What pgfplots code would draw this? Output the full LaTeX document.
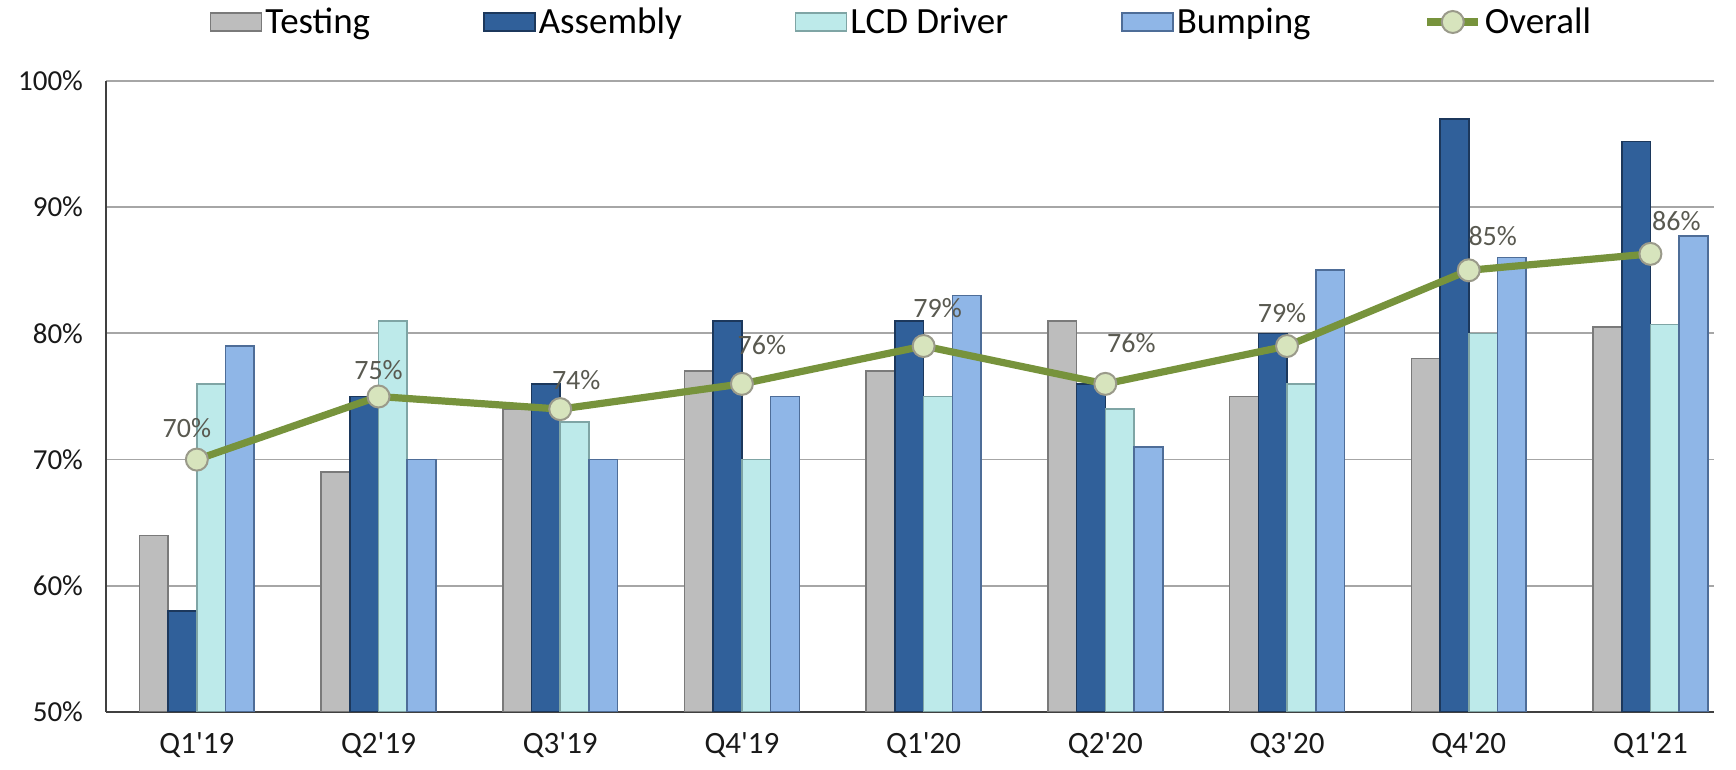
\documentclass[border=0pt]{standalone}
\usepackage{pgfplots}
\pgfplotsset{compat=1.18}
\usepackage{pgfplotstable}
\usepackage{fontspec}
\setmainfont{Carlito}
\definecolor{tfill}{HTML}{BDBDBD}
\definecolor{tedge}{HTML}{7A7A7A}
\definecolor{afill}{HTML}{30609A}
\definecolor{aedge}{HTML}{1C385C}
\definecolor{lfill}{HTML}{BDEAEA}
\definecolor{ledge}{HTML}{7FA5A5}
\definecolor{bfill}{HTML}{8FB6E7}
\definecolor{bedge}{HTML}{4E6D98}
\definecolor{lgreen}{HTML}{77933C}
\definecolor{mfill}{HTML}{D7E4BD}
\definecolor{mdraw}{HTML}{9A9A8A}
\definecolor{gridgray}{HTML}{A6A6A6}
\definecolor{labcol}{HTML}{595950}
\pgfplotsset{
  barleg/.style={legend image code/.code={\draw[#1] (0pt,-4.5pt) rectangle (25.5pt,4.5pt);}},
  lineleg/.style={legend image code/.code={\draw[mark repeat=2,mark phase=2,#1] plot coordinates {(0pt,0pt)(12.75pt,0pt)(25.5pt,0pt)};}},
}
\pgfplotstableread{
x T A L B O dx dy
0 64 58 76 79 70 -5 16
1 69 75 81 70 75 0 13
2 74 76 73 70 74 8 14.4
3 77 81 70 75 76 10 19.4
4 77 81 75 83 79 7 18.8
5 81 76 74 71 76 13 20.5
6 75 80 76 85 79 -2.5 16.6
7 78 97 80 86 85 12 17
8 80.5 95.2 80.7 87.7 86.3 13 16.6
}\data
\begin{document}
\begin{tikzpicture}
\begin{axis}[
  width=804pt, height=315.5pt, scale only axis,
  xmin=-0.5, xmax=8.35, ymin=50, ymax=100,
  ybar=0pt, bar width=0.158,
  ytick={50,60,...,100},
  yticklabel={\pgfmathprintnumber{\tick}\%},
  xtick={0,...,8},
  xticklabels={Q1\textquotesingle 19,Q2\textquotesingle 19,Q3\textquotesingle 19,Q4\textquotesingle 19,Q1\textquotesingle 20,Q2\textquotesingle 20,Q3\textquotesingle 20,Q4\textquotesingle 20,Q1\textquotesingle 21},
  /pgf/number format/assume math mode=true,
  yticklabel style={font=\fontsize{14.5}{16}\selectfont, text=black!90, xshift=-8pt},
  xticklabel style={font=\fontsize{15.5}{17}\selectfont, text=black!90, yshift=-7pt},
  major tick length=0pt,
  ymajorgrids, grid style={color=gridgray, line width=0.9pt},
  axis x line*=bottom, axis y line*=left,
  axis line style={color=black!75, line width=1pt, -},
  legend style={at={(0.495,1)}, anchor=center, yshift=29.5pt, draw=none, fill=none,
    legend columns=-1, font=\fontsize{18.5}{20}\selectfont,
    nodes={inner sep=1.5pt},
    /tikz/every even column/.append style={column sep=55pt},
    /tikz/every odd column/.append style={column sep=0pt}},
]
\addplot[barleg, draw=tedge, fill=tfill, line width=0.8pt] table[x=x,y=T]{\data};
\addlegendentry{Testing}
\addplot[barleg, draw=aedge, fill=afill, line width=0.8pt] table[x=x,y=A]{\data};
\addlegendentry{Assembly}
\addplot[barleg, draw=ledge, fill=lfill, line width=0.8pt] table[x=x,y=L]{\data};
\addlegendentry{LCD Driver}
\addplot[barleg, draw=bedge, fill=bfill, line width=0.8pt] table[x=x,y=B]{\data};
\addlegendentry{Bumping}
\addplot[sharp plot, lineleg, color=lgreen, line width=3.6pt, mark=*, mark size=5.5pt,
  mark options={fill=mfill, draw=mdraw, line width=1pt},
  visualization depends on={\thisrow{dx} \as \dx},
  visualization depends on={\thisrow{dy} \as \dy},
  point meta=y,
  nodes near coords={\pgfmathprintnumber[fixed,precision=0]{\pgfplotspointmeta}\%},
  every node near coord/.append style={anchor=center, xshift=\dx pt, yshift=\dy pt,
     font=\fontsize{14}{16}\selectfont, text=labcol}
] table[x=x,y=O]{\data};
\addlegendentry{Overall}
\coordinate (SW) at (rel axis cs:0,0);
\coordinate (NE) at (rel axis cs:1,1);
\end{axis}
\pgfresetboundingbox
\useasboundingbox ([xshift=-53pt,yshift=-29pt]SW) rectangle ([xshift=11pt,yshift=40.5pt]NE);
\end{tikzpicture}
\end{document}
